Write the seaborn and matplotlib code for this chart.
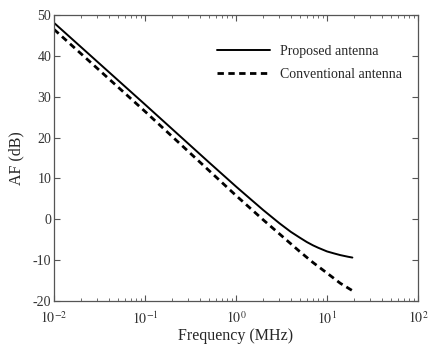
import numpy as np
import pandas as pd
import seaborn as sns
import matplotlib.pyplot as plt
from matplotlib.ticker import LogLocator, NullFormatter

sns.set_style("ticks")
plt.rcParams["font.family"] = ["Liberation Serif", "DejaVu Serif"]
plt.rcParams["mathtext.fontset"] = "stix"
plt.rcParams["axes.unicode_minus"] = False

# frequency in MHz, antenna factor in dB
freq_proposed = [0.01, 0.1, 0.5, 1, 1.5, 2, 3, 4, 5, 6, 7, 8, 10, 12, 14, 17, 19]
af_proposed = [48.1, 28.1, 14.0, 8.0, 4.6, 2.2, -1.0, -3.1, -4.5, -5.6, -6.4,
               -7.0, -7.9, -8.4, -8.8, -9.2, -9.4]

freq_conventional = [0.01, 0.1, 1, 2, 3, 5, 7, 10, 14, 19]
af_conventional = [46.5, 26.4, 5.8, -0.2, -3.6, -7.9, -10.6, -13.2, -15.7, -17.5]

x_ticks = [0.01, 0.1, 1, 10, 100]
x_tick_labels = ["$10^{-2}$", "$10^{-1}$", "$10^{0}$", "$10^{1}$", "$10^{2}$"]
y_ticks = [-20, -10, 0, 10, 20, 30, 40, 50]

df_p = pd.DataFrame({"f": freq_proposed, "af": af_proposed})
df_c = pd.DataFrame({"f": freq_conventional, "af": af_conventional})

fig = plt.figure(figsize=(4.35, 3.49), dpi=100)
ax = fig.add_axes([0.124, 0.138, 0.837, 0.819])

sns.lineplot(data=df_p, x="f", y="af", ax=ax, color="black", lw=1.4,
             label="Proposed antenna")
sns.lineplot(data=df_c, x="f", y="af", ax=ax, color="black", lw=2.0,
             label="Conventional antenna")
ax.lines[1].set_dashes((2.3, 1.6))

ax.set_xscale("log")
ax.set_xlim(0.01, 100)
ax.set_ylim(-20, 50)
ax.set_xticks(x_ticks)
ax.set_xticklabels(x_tick_labels)
ax.xaxis.set_minor_locator(LogLocator(base=10, subs=np.arange(2, 10)))
ax.xaxis.set_minor_formatter(NullFormatter())
ax.set_yticks(y_ticks)

for s in ax.spines.values():
    s.set_visible(True)
    s.set_color("#555555")
    s.set_linewidth(0.9)
ax.tick_params(which="both", direction="in", top=True, right=True,
               colors="#555555", labelcolor="#333333", labelsize=10)
ax.tick_params(which="major", length=4)
ax.tick_params(which="minor", length=2)
ax.tick_params(axis="x", which="major", pad=7)
ax.tick_params(axis="y", which="major", pad=2)

ax.set_xlabel("Frequency (MHz)", fontsize=11.5, labelpad=1)
ax.set_ylabel("AF (dB)", fontsize=11.5, labelpad=6)

leg = ax.legend(loc="upper right", frameon=False, fontsize=10,
                handlelength=3.8, handletextpad=0.7,
                bbox_to_anchor=(0.99, 0.94), labelspacing=0.75)
leg.legend_handles[1].set_dashes((2.3, 1.6))

fig.savefig("out.png", dpi=100)
